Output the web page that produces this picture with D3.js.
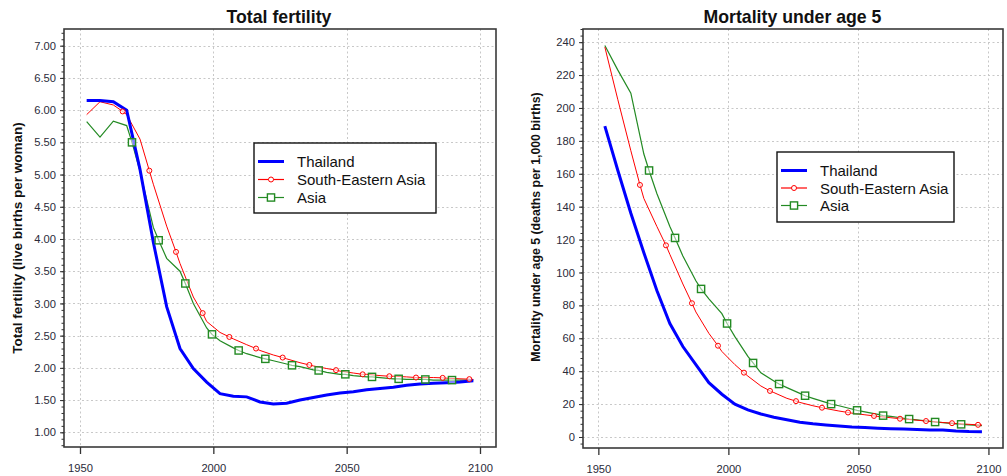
<!DOCTYPE html>
<html>
<head>
<meta charset="utf-8">
<script src="https://cdn.jsdelivr.net/npm/d3@7"></script>
<style>
  html, body { margin: 0; padding: 0; background: #fff; }
  svg { display: block; font-family: "Liberation Sans", Arial, sans-serif; }
</style>
</head>
<body>
<svg id="chart" width="1007" height="476"></svg>
<script>
// ---------------- DATA ----------------
const seriesNames = ["Thailand", "South-Eastern Asia", "Asia"];
const years = [1952.5,1957.5,1962.5,1967.5,1972.5,1977.5,1982.5,1987.5,1992.5,1997.5,
               2002.5,2007.5,2012.5,2017.5,2022.5,2027.5,2032.5,2037.5,2042.5,2047.5,
               2052.5,2057.5,2062.5,2067.5,2072.5,2077.5,2082.5,2087.5,2092.5,2097.5];

// Total fertility (live births per woman)
const tfrThailand = [6.15,6.15,6.13,6.00,5.08,3.95,2.95,2.30,1.99,1.78,
                     1.60,1.56,1.55,1.47,1.44,1.45,1.50,1.54,1.58,1.61,
                     1.63,1.66,1.68,1.70,1.73,1.75,1.76,1.77,1.78,1.80];
const tfrSEAsia   = [5.93,6.13,6.08,5.93,5.55,4.85,4.20,3.62,3.10,2.72,
                     2.55,2.45,2.36,2.27,2.20,2.14,2.08,2.03,1.99,1.95,
                     1.92,1.90,1.88,1.87,1.86,1.85,1.85,1.84,1.83,1.82];
const tfrAsia     = [5.82,5.58,5.83,5.76,5.05,4.18,3.70,3.50,3.00,2.62,
                     2.42,2.31,2.22,2.16,2.11,2.06,2.02,1.97,1.93,1.90,
                     1.88,1.86,1.85,1.83,1.82,1.82,1.81,1.81,1.81,1.81];
const tfrSEAsiaMarkYears = [1966,1976,1986,1996,2006,2016,2026,2036,2046,2056,2066,2076,2086,2096];
const tfrSEAsiaMarkVals  = [5.98,5.06,3.80,2.85,2.48,2.30,2.16,2.045,1.965,1.90,1.87,1.85,1.845,1.825];
const tfrAsiaMarkYears   = [1969.5,1979.5,1989.5,1999.5,2009.5,2019.5,2029.5,2039.5,2049.5,2059.5,2069.5,2079.5,2089.5];
const tfrAsiaMarkVals    = [5.50,3.98,3.31,2.52,2.27,2.14,2.04,1.96,1.90,1.86,1.83,1.82,1.81];

// Mortality under age 5 (deaths per 1,000 births)
const u5Thailand = [189,162,136,112,89,69,55,44,33,26,
                    20,16.5,14,12,10.5,9,8,7.3,6.7,6.1,
                    5.7,5.3,5.0,4.8,4.6,4.3,4.2,3.6,3.3,3.2];
const u5SEAsia   = [237,205,174,145,128,111,93,76,63,52,
                    44,37,31,27,23.5,21,19,17.3,15.8,14.5,
                    13.5,12.5,11.7,10.9,10.2,9.5,8.8,8.2,7.7,7.3];
const u5Asia     = [238,223,209,172,148,128,110,95,84,75,
                    61,49,39,34,30,26.5,23.5,21,19,17,
                    15.3,13.8,12.5,11.4,10.4,9.5,8.7,8.0,7.4,6.9];
const u5SEAsiaMarkYears = [1966,1976,1986,1996,2006,2016,2026,2036,2046,2056,2066,2076,2086,2096];
const u5SEAsiaMarkVals  = [153.2,116.5,81.3,55.5,39.1,28.0,21.8,17.8,14.9,12.8,11.1,9.7,8.4,7.4];
const u5AsiaMarkYears   = [1969.5,1979.5,1989.5,1999.5,2009.5,2019.5,2029.5,2039.5,2049.5,2059.5,2069.5,2079.5,2089.5];
const u5AsiaMarkVals    = [162,121,90,69,45,32.2,25.1,20,16.2,13,10.9,9.1,7.7];

const xTicks = [1950, 2000, 2050, 2100];
const tfrTicks = [1.00,1.50,2.00,2.50,3.00,3.50,4.00,4.50,5.00,5.50,6.00,6.50,7.00];
const u5Ticks = [0,20,40,60,80,100,120,140,160,180,200,220,240];

// ---------------- STYLE ----------------
const colors = { "Thailand": "#0000ff", "South-Eastern Asia": "#ff0000", "Asia": "#238a23" };

const svg = d3.select("#chart");

function merge(ys, vs, mys, mvs) {
  const pts = ys.map((y, i) => [y, vs[i]]);
  if (mys) mys.forEach((y, i) => pts.push([y, mvs[i]]));
  pts.sort((a, b) => a[0] - b[0]);
  return pts;
}

function panel(cfg) {
  const g = svg.append("g");
  const x = d3.scaleLinear().domain(cfg.xDomain).range([cfg.left, cfg.right]);
  const y = d3.scaleLinear().domain(cfg.yDomain).range([cfg.bottom, cfg.top]);

  // grid
  const grid = g.append("g").attr("stroke", "#c8c8c8").attr("stroke-width", 1)
    .attr("stroke-dasharray", "2,2.5").attr("fill", "none");
  xTicks.forEach(t => grid.append("line")
    .attr("x1", Math.round(x(t)) + 0.5).attr("x2", Math.round(x(t)) + 0.5)
    .attr("y1", cfg.top).attr("y2", cfg.bottom));
  cfg.yTicks.forEach(t => grid.append("line")
    .attr("x1", cfg.left).attr("x2", cfg.right)
    .attr("y1", Math.round(y(t)) + 0.5).attr("y2", Math.round(y(t)) + 0.5));

  // clip
  const clipId = "clip" + cfg.id;
  svg.append("clipPath").attr("id", clipId).append("rect")
    .attr("x", cfg.left).attr("y", cfg.top)
    .attr("width", cfg.right - cfg.left).attr("height", cfg.bottom - cfg.top);

  const line = d3.line().x(d => x(d[0])).y(d => y(d[1]));
  const plot = g.append("g").attr("clip-path", `url(#${clipId})`);

  // Asia (green)
  plot.append("path").datum(merge(years, cfg.asia, cfg.asiaMY, cfg.asiaMV))
    .attr("d", line).attr("fill", "none").attr("stroke", colors["Asia"]).attr("stroke-width", 1.2);
  // SE Asia (red)
  plot.append("path").datum(merge(years, cfg.sea, cfg.seaMY, cfg.seaMV))
    .attr("d", line).attr("fill", "none").attr("stroke", colors["South-Eastern Asia"]).attr("stroke-width", 1);
  // Thailand (blue)
  plot.append("path").datum(merge(years, cfg.tha))
    .attr("d", line).attr("fill", "none").attr("stroke", colors["Thailand"]).attr("stroke-width", 3);

  // markers
  cfg.seaMY.forEach((yr, i) => plot.append("circle")
    .attr("cx", x(yr)).attr("cy", y(cfg.seaMV[i])).attr("r", 2.5)
    .attr("fill", "#fff").attr("fill-opacity", 0.6).attr("stroke", colors["South-Eastern Asia"]).attr("stroke-width", 1));
  cfg.asiaMY.forEach((yr, i) => plot.append("rect")
    .attr("x", x(yr) - 3.6).attr("y", y(cfg.asiaMV[i]) - 3.6).attr("width", 7.2).attr("height", 7.2)
    .attr("fill", "#fff").attr("fill-opacity", 0.5).attr("stroke", colors["Asia"]).attr("stroke-width", 1.4));

  // frame
  g.append("rect").attr("x", cfg.left).attr("y", cfg.top)
    .attr("width", cfg.right - cfg.left).attr("height", cfg.bottom - cfg.top)
    .attr("fill", "none").attr("stroke", "#3a3a3a").attr("stroke-width", 1.6);

  // y axis
  const yAxis = g.append("g").attr("transform", `translate(${cfg.left},0)`);
  yAxis.call(d3.axisLeft(y).tickValues(cfg.minor).tickSize(2.5).tickFormat(""))
    .call(a => a.select(".domain").remove())
    .call(a => a.selectAll("line").attr("stroke", "#333").attr("stroke-width", 1));
  const yMaj = g.append("g").attr("transform", `translate(${cfg.left},0)`);
  yMaj.call(d3.axisLeft(y).tickValues(cfg.yTicks).tickSize(4).tickPadding(4).tickFormat(cfg.fmt))
    .call(a => a.select(".domain").remove())
    .call(a => a.selectAll("line").attr("stroke", "#333").attr("stroke-width", 1))
    .call(a => a.selectAll("text").attr("fill", "#2b2b3a").attr("font-size", 11.2)
      .attr("font-family", "Liberation Sans, Arial, sans-serif"));

  // x axis
  const xAxis = g.append("g").attr("transform", `translate(0,${cfg.bottom})`);
  xAxis.call(d3.axisBottom(x).tickValues(xTicks).tickSize(7).tickPadding(10).tickFormat(d3.format("d")))
    .call(a => a.select(".domain").remove())
    .call(a => a.selectAll("line").attr("stroke", "#333").attr("stroke-width", 1.3))
    .call(a => a.selectAll("text").attr("fill", "#2b2b3a").attr("font-size", 11.2)
      .attr("font-family", "Liberation Sans, Arial, sans-serif"));

  // title
  svg.append("text").attr("x", cfg.titleX).attr("y", 23).attr("text-anchor", "middle")
    .attr("font-size", 17.7).attr("font-weight", "bold").attr("fill", "#111").text(cfg.title);
  // y label
  svg.append("text").attr("transform", `translate(${cfg.ylabX},${cfg.ylabY}) rotate(-90)`)
    .attr("text-anchor", "middle").attr("dominant-baseline", "middle")
    .attr("font-size", cfg.ylabSize).attr("font-weight", "bold").attr("fill", "#111").text(cfg.ylabel);

  // legend
  const L = cfg.legend;
  const lg = svg.append("g");
  lg.append("rect").attr("x", L.x).attr("y", L.y).attr("width", L.w).attr("height", L.h)
    .attr("fill", "#fff").attr("stroke", "#111").attr("stroke-width", 1.4);
  seriesNames.forEach((name, i) => {
    const yy = L.y + L.first + i * L.step;
    lg.append("line").attr("x1", L.x + 4).attr("x2", L.x + 30).attr("y1", yy).attr("y2", yy)
      .attr("stroke", colors[name]).attr("stroke-width", name === "Thailand" ? 3 : 1.2);
    if (name === "South-Eastern Asia") {
      lg.append("circle").attr("cx", L.x + 17).attr("cy", yy).attr("r", 2.5)
        .attr("fill", "#fff").attr("stroke", colors[name]).attr("stroke-width", 1);
    }
    if (name === "Asia") {
      lg.append("rect").attr("x", L.x + 17 - 3.6).attr("y", yy - 3.6).attr("width", 7.2).attr("height", 7.2)
        .attr("fill", "#fff").attr("stroke", colors[name]).attr("stroke-width", 1.4);
    }
    lg.append("text").attr("x", L.x + 43).attr("y", yy).attr("dominant-baseline", "central")
      .attr("font-size", 15).attr("fill", "#111").text(name);
  });
}

const range01 = (a, b, s) => d3.range(Math.round(a / s), Math.round(b / s) + 1).map(k => +(k * s).toFixed(4));

panel({
  id: "L", left: 64, right: 496, top: 29, bottom: 447,
  xDomain: [1944, 2106], yDomain: [0.772, 7.259],
  yTicks: tfrTicks, minor: range01(0.8, 7.2, 0.1), fmt: d3.format(".2f"),
  tha: tfrThailand, sea: tfrSEAsia, asia: tfrAsia,
  seaMY: tfrSEAsiaMarkYears, seaMV: tfrSEAsiaMarkVals,
  asiaMY: tfrAsiaMarkYears, asiaMV: tfrAsiaMarkVals,
  title: "Total fertility", titleX: 279,
  ylabel: "Total fertility (live births per woman)", ylabX: 18, ylabY: 238, ylabSize: 13.5,
  legend: { x: 254, y: 143, w: 182, h: 70, first: 18.5, step: 18 }
});

panel({
  id: "R", left: 583, right: 1003, top: 29, bottom: 448,
  xDomain: [1944.1, 2105.6], yDomain: [-6.69, 248.0],
  yTicks: u5Ticks, minor: d3.range(-4, 249, 4), fmt: d3.format("d"),
  tha: u5Thailand, sea: u5SEAsia, asia: u5Asia,
  seaMY: u5SEAsiaMarkYears, seaMV: u5SEAsiaMarkVals,
  asiaMY: u5AsiaMarkYears, asiaMV: u5AsiaMarkVals,
  title: "Mortality under age 5", titleX: 792.5,
  ylabel: "Mortality under age 5 (deaths per 1,000 births)", ylabX: 537, ylabY: 227, ylabSize: 12.3,
  legend: { x: 777, y: 152, w: 177, h: 70, first: 18.5, step: 17.5 }
});
</script>
</body>
</html>
